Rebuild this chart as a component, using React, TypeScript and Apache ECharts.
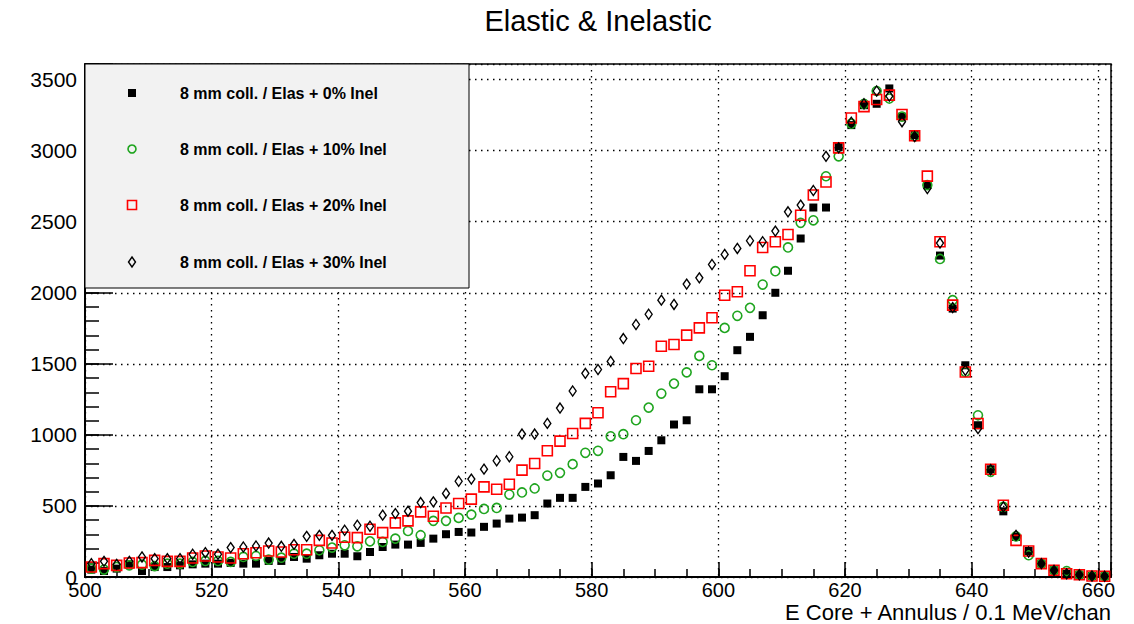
import React, { useEffect, useRef } from "react";
import * as echarts from "echarts";

const binCenters = [
  501, 503, 505, 507, 509, 511, 513, 515, 517, 519,
  521, 523, 525, 527, 529, 531, 533, 535, 537, 539,
  541, 543, 545, 547, 549, 551, 553, 555, 557, 559,
  561, 563, 565, 567, 569, 571, 573, 575, 577, 579,
  581, 583, 585, 587, 589, 591, 593, 595, 597, 599,
  601, 603, 605, 607, 609, 611, 613, 615, 617, 619,
  621, 623, 625, 627, 629, 631, 633, 635, 637, 639,
  641, 643, 645, 647, 649, 651, 653, 655, 657, 659,
  661,
];

const elas0 = [
  52, 42, 59, 89, 42, 70, 70, 82, 89, 94,
  94, 99, 94, 94, 113, 113, 141, 129, 153, 164,
  164, 146, 176, 211, 228, 228, 240, 270, 301, 317,
  313, 353, 376, 411, 418, 435, 517, 557, 557, 634,
  658, 716, 845, 817, 887, 962, 1073, 1103, 1321, 1321,
  1413, 1596, 1690, 1842, 2000, 2155, 2382, 2600, 2600, 3030,
  3180, 3320, 3330, 3438, 3239, 3110, 2758, 2262, 1889, 1490,
  1068, 758, 462, 282, 183, 94, 47, 23, 16, 7,
  5,
];

const elas10 = [
  59, 52, 70, 82, 87, 77, 94, 94, 106, 113,
  113, 106, 141, 148, 122, 136, 164, 164, 188, 207,
  223, 216, 251, 247, 270, 324, 294, 395, 395, 416,
  439, 479, 486, 580, 595, 623, 714, 733, 794, 874,
  888, 990, 1005, 1103, 1192, 1291, 1361, 1440, 1556, 1490,
  1753, 1838, 1894, 2058, 2152, 2319, 2492, 2510, 2820, 2960,
  3190, 3330, 3420, 3367, 3240, 3100, 2758, 2238, 1948, 1443,
  1138, 740, 493, 286, 153, 94, 47, 42, 16, 7,
  5,
];

const elas20 = [
  70, 94, 82, 99, 101, 117, 110, 110, 134, 148,
  141, 134, 164, 171, 183, 176, 192, 192, 258, 239,
  280, 277, 336, 312, 381, 395, 458, 428, 486, 517,
  548, 634, 618, 653, 752, 799, 888, 956, 1010, 1081,
  1156, 1304, 1361, 1467, 1483, 1624, 1636, 1702, 1753, 1824,
  1983, 2007, 2155, 2319, 2359, 2410, 2546, 2688, 2780, 3020,
  3230, 3310, 3360, 3391, 3255, 3105, 2821, 2359, 1913, 1443,
  1080, 758, 505, 258, 183, 94, 47, 23, 16, 7,
  5,
];

const elas30 = [
  94, 110, 89, 110, 141, 129, 129, 129, 160, 171,
  160, 207, 211, 218, 239, 216, 230, 286, 293, 293,
  329, 364, 357, 435, 446, 463, 524, 529, 588, 674,
  689, 759, 818, 846, 1006, 1006, 1081, 1189, 1309, 1433,
  1460, 1517, 1678, 1777, 1849, 1948, 1918, 2061, 2105, 2199,
  2270, 2312, 2366, 2359, 2434, 2570, 2617, 2720, 2960, 3020,
  3200, 3330, 3420, 3384, 3204, 3100, 2734, 2350, 1896, 1455,
  1044, 755, 493, 293, 176, 94, 47, 23, 16, 7,
  5,
];

const seriesNames = [
  "8 mm coll. / Elas + 0% Inel",
  "8 mm coll. / Elas + 10% Inel",
  "8 mm coll. / Elas + 20% Inel",
  "8 mm coll. / Elas + 30% Inel",
];

const titleText = "Elastic & Inelastic";
const xTitle = "E Core + Annulus / 0.1 MeV/chan";

const X_MIN = 500;
const X_MAX = 662;
const Y_MIN = 0;
const Y_MAX = 3610;

const GREEN = "#1fa51f";
const RED = "#ff0000";
const FONT = "Liberation Sans";

function pairs(ys: number[]) {
  return binCenters.map((x, i) => [x, ys[i]]);
}

export default function App() {
  const ref = useRef<HTMLDivElement>(null);

  useEffect(() => {
    if (!ref.current) return;
    const chart = echarts.init(ref.current, undefined, { renderer: "svg" });

    const legendRows = [93, 149, 205, 262];
    const mx = 132;
    const legendGraphics: any[] = [
      {
        type: "rect",
        z: 100,
        shape: { x: 85, y: 64, width: 384, height: 224 },
        style: { fill: "#f2f2f2", stroke: "#000", lineWidth: 1 },
      },
      {
        type: "rect",
        z: 101,
        shape: { x: mx - 4, y: legendRows[0] - 4, width: 8, height: 8 },
        style: { fill: "#000" },
      },
      {
        type: "circle",
        z: 101,
        shape: { cx: mx, cy: legendRows[1], r: 4 },
        style: { fill: "none", stroke: GREEN, lineWidth: 1.6 },
      },
      {
        type: "rect",
        z: 101,
        shape: { x: mx - 4.5, y: legendRows[2] - 4.5, width: 9, height: 9 },
        style: { fill: "none", stroke: RED, lineWidth: 1.6 },
      },
      {
        type: "polygon",
        z: 101,
        shape: {
          points: [
            [mx, legendRows[3] - 5],
            [mx + 3.5, legendRows[3]],
            [mx, legendRows[3] + 5],
            [mx - 3.5, legendRows[3]],
          ],
        },
        style: { fill: "none", stroke: "#000", lineWidth: 1.4 },
      },
      ...seriesNames.map((name, i) => ({
        type: "text",
        z: 101,
        x: 180,
        y: legendRows[i],
        style: {
          text: name,
          fill: "#000",
          fontFamily: FONT,
          fontSize: 16,
          fontWeight: "bold",
          align: "left",
          verticalAlign: "middle",
        },
      })),
      {
        type: "text",
        z: 101,
        x: 1111,
        y: 612,
        style: {
          text: xTitle,
          fill: "#000",
          fontFamily: FONT,
          fontSize: 22,
          lineHeight: 16,
          align: "right",
          verticalAlign: "middle",
        },
      },
      {
        type: "text",
        z: 101,
        x: 598,
        y: 21,
        style: {
          text: titleText,
          fill: "#000",
          fontFamily: FONT,
          fontSize: 29,
          align: "center",
          verticalAlign: "middle",
        },
      },
    ];

    const tickLine = { color: "#000", width: 1.5 };
    const gridDots = { color: "#000", width: 1.3, type: [1.5, 4.5] as any };

    const option: any = {
      animation: false,
      backgroundColor: "#fff",
      grid: {
        left: 85,
        right: 23,
        top: 64,
        bottom: 47,
        show: true,
        borderColor: "#000",
        borderWidth: 1.5,
        backgroundColor: "transparent",
      },
      xAxis: [
        {
          type: "value",
          min: X_MIN,
          max: X_MAX,
          interval: 20,
          axisLine: { show: true, onZero: false, lineStyle: { color: "#000", width: 2 } },
          axisTick: { show: true, inside: true, length: 15, lineStyle: tickLine },
          splitLine: { show: true, lineStyle: gridDots },
          axisLabel: {
            color: "#000",
            fontFamily: FONT,
            fontSize: 20,
            lineHeight: 14,
            margin: 6,
            formatter: (v: number) => (v % 20 === 0 ? String(v) : ""),
          },
        },
        {
          type: "value",
          min: X_MIN,
          max: X_MAX,
          interval: 5,
          position: "bottom",
          axisLine: { show: false },
          axisTick: { show: true, inside: true, length: 8, lineStyle: tickLine },
          splitLine: { show: false },
          axisLabel: { show: false },
        },
      ],
      yAxis: [
        {
          type: "value",
          min: Y_MIN,
          max: Y_MAX,
          interval: 500,
          axisLine: { show: true, onZero: false, lineStyle: { color: "#000", width: 2 } },
          axisTick: { show: true, inside: true, length: 28, lineStyle: tickLine },
          splitLine: { show: true, lineStyle: gridDots },
          axisLabel: {
            color: "#000",
            fontFamily: FONT,
            fontSize: 21,
            lineHeight: 14,
            margin: 8,
            formatter: (v: number) => (v % 500 === 0 ? String(v) : ""),
          },
        },
        {
          type: "value",
          min: Y_MIN,
          max: Y_MAX,
          interval: 100,
          position: "left",
          axisLine: { show: false },
          axisTick: { show: true, inside: true, length: 14, lineStyle: tickLine },
          splitLine: { show: false },
          axisLabel: { show: false },
        },
      ],
      series: [
        {
          name: seriesNames[0],
          type: "scatter",
          xAxisIndex: 0,
          yAxisIndex: 0,
          data: pairs(elas0),
          symbol: "rect",
          symbolSize: 8,
          itemStyle: { color: "#000", opacity: 1 },
          z: 2,
        },
        {
          name: seriesNames[1],
          type: "scatter",
          xAxisIndex: 0,
          yAxisIndex: 0,
          data: pairs(elas10),
          symbol: "circle",
          symbolSize: 9,
          itemStyle: { color: "rgba(0,0,0,0)", borderColor: GREEN, borderWidth: 1.6, opacity: 1 },
          z: 3,
        },
        {
          name: seriesNames[2],
          type: "scatter",
          xAxisIndex: 0,
          yAxisIndex: 0,
          data: pairs(elas20),
          symbol: "rect",
          symbolSize: 10,
          itemStyle: { color: "rgba(0,0,0,0)", borderColor: RED, borderWidth: 1.6, opacity: 1 },
          z: 4,
        },
        {
          name: seriesNames[3],
          type: "scatter",
          xAxisIndex: 0,
          yAxisIndex: 0,
          data: pairs(elas30),
          symbol: "diamond",
          symbolSize: [7, 10],
          itemStyle: { color: "rgba(0,0,0,0)", borderColor: "#000", borderWidth: 1.4, opacity: 1 },
          z: 5,
        },
      ],
      graphic: legendGraphics,
    };

    chart.setOption(option);
    return () => chart.dispose();
  }, []);

  return (
    <div
      ref={ref}
      style={{ position: "absolute", left: 0, top: 0, width: 1134, height: 624 }}
    />
  );
}
